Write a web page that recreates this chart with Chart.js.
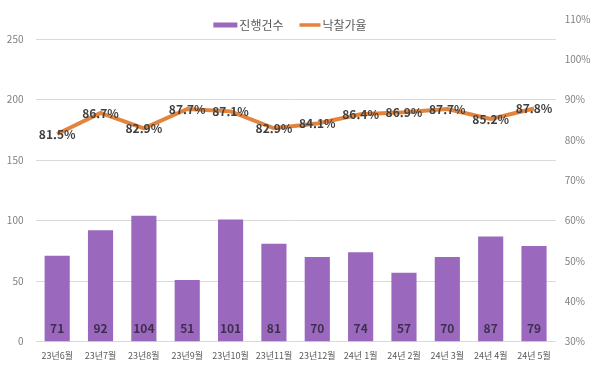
<!DOCTYPE html>
<html lang="ko">
<head>
<meta charset="utf-8">
<script src="https://cdn.jsdelivr.net/npm/chart.js@4.4.1/dist/chart.umd.min.js"></script>
<style>
  html, body { margin: 0; padding: 0; background: #fff; }
  #wrap { width: 600px; height: 370px; }
</style>
</head>
<body>
<div id="wrap"><canvas id="auctionChart" width="600" height="370"></canvas></div>
<script>
// chart data
const months = ['23년6월', '23년7월', '23년8월', '23년9월', '23년10월', '23년11월',
                '23년12월', '24년 1월', '24년 2월', '24년 3월', '24년 4월', '24년 5월'];
const caseCounts = [71, 92, 104, 51, 101, 81, 70, 74, 57, 70, 87, 79];
const bidRates = [81.5, 86.7, 82.9, 87.7, 87.1, 82.9, 84.1, 86.4, 86.9, 87.7, 85.2, 87.8];
const countTicks = [0, 50, 100, 150, 200, 250];
const rateTicks = [30, 40, 50, 60, 70, 80, 90, 100, 110];

const FONT = '"Noto Sans CJK KR", "Noto Sans", sans-serif';
const barColor = '#9a68bc';
const lineColor = '#e2833e';

// left axis is stretched so 0 lines up with 30% and 200 with 90%
const countMax = (110 - 30) * 200 / 60;

// numbers on the bars and on the line points
const valueLabels = {
  id: 'valueLabels',
  afterDatasetsDraw(chart) {
    const ctx = chart.ctx;
    ctx.save();
    ctx.textAlign = 'center';
    ctx.textBaseline = 'middle';
    ctx.font = 'bold 12px ' + FONT;
    ctx.fillStyle = '#3e2f50';
    chart.getDatasetMeta(0).data.forEach((bar, i) => {
      ctx.fillText(caseCounts[i], bar.x, bar.base - 13);
    });
    ctx.fillStyle = '#404040';
    chart.getDatasetMeta(1).data.forEach((pt, i) => {
      ctx.fillText(bidRates[i].toFixed(1) + '%', pt.x, pt.y);
    });
    ctx.restore();
  }
};

// small legend drawn over the top of the plot, like the original
const topLegend = {
  id: 'topLegend',
  afterDraw(chart) {
    const ctx = chart.ctx;
    const ds = chart.data.datasets;
    const y = 25;
    ctx.save();
    ctx.font = '12px ' + FONT;
    ctx.textBaseline = 'middle';
    const w0 = ctx.measureText(ds[0].label).width;
    const w1 = ctx.measureText(ds[1].label).width;
    const total = 24 + 2 + w0 + 16 + 21 + 2 + w1;
    let x = 290 - total / 2;

    ctx.fillStyle = ds[0].backgroundColor;
    ctx.fillRect(x, y - 2.5, 24, 5);
    x += 26;
    ctx.fillStyle = '#595959';
    ctx.fillText(ds[0].label, x, y);
    x += w0 + 16;

    ctx.strokeStyle = ds[1].borderColor;
    ctx.lineWidth = 3.5;
    ctx.beginPath();
    ctx.moveTo(x, y);
    ctx.lineTo(x + 21, y);
    ctx.stroke();
    x += 23;
    ctx.fillStyle = '#595959';
    ctx.fillText(ds[1].label, x, y);
    ctx.restore();
  }
};

new Chart(document.getElementById('auctionChart'), {
  data: {
    labels: months,
    datasets: [
      {
        type: 'bar',
        label: '진행건수',
        data: caseCounts,
        yAxisID: 'yCount',
        backgroundColor: barColor,
        barPercentage: 0.58,
        categoryPercentage: 1.0,
        order: 2
      },
      {
        type: 'line',
        label: '낙찰가율',
        data: bidRates,
        yAxisID: 'yRate',
        borderColor: lineColor,
        backgroundColor: lineColor,
        borderWidth: 4,
        pointRadius: 0,
        tension: 0,
        order: 1
      }
    ]
  },
  options: {
    responsive: false,
    animation: false,
    layout: { padding: { top: 19, left: 0, right: 0, bottom: 0 } },
    plugins: {
      legend: { display: false },
      tooltip: { enabled: false }
    },
    scales: {
      x: {
        grid: { display: false, drawTicks: false },
        border: { display: false },
        ticks: {
          color: '#595959',
          font: { family: FONT, size: 9 },
          padding: 8,
          maxRotation: 0,
          autoSkip: false
        },
        afterFit(scale) { scale.height = 28.3; }
      },
      yCount: {
        position: 'left',
        min: 0,
        max: countMax,
        afterBuildTicks(scale) { scale.ticks = countTicks.map(v => ({ value: v })); },
        grid: { color: '#d9d9d9', lineWidth: 1, drawTicks: false },
        border: { display: false },
        ticks: {
          color: '#7f7f7f',
          font: { family: FONT, size: 10 },
          padding: 12
        },
        afterFit(scale) { scale.width = 35.5; }
      },
      yRate: {
        position: 'right',
        min: 30,
        max: 110,
        afterBuildTicks(scale) { scale.ticks = rateTicks.map(v => ({ value: v })); },
        grid: { display: false, drawTicks: false },
        border: { display: false },
        ticks: {
          color: '#7f7f7f',
          font: { family: FONT, size: 10 },
          padding: 9,
          callback: v => v + '%'
        },
        afterFit(scale) { scale.width = 44.3; }
      }
    }
  },
  plugins: [valueLabels, topLegend]
});
</script>
</body>
</html>
